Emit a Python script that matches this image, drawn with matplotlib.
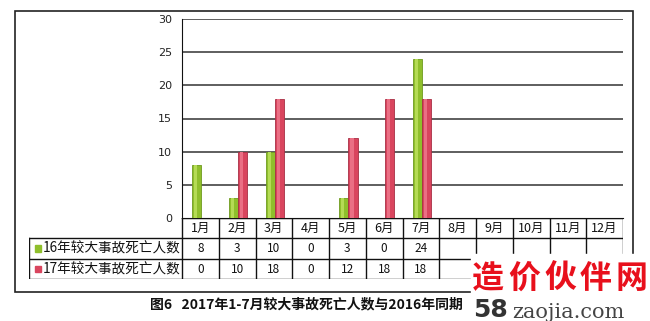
import matplotlib
matplotlib.use("Agg")
import matplotlib.pyplot as plt
from matplotlib.patches import Rectangle
import numpy as np

plt.rcParams['font.family'] = ['Noto Sans CJK SC', 'DejaVu Sans']

months = ['1月', '2月', '3月', '4月', '5月', '6月', '7月', '8月', '9月', '10月', '11月', '12月']
series_names = ['16年较大事故死亡人数', '17年较大事故死亡人数']
deaths_2016 = [8, 3, 10, 0, 3, 0, 24]
deaths_2017 = [0, 10, 18, 0, 12, 18, 18]
yticks = [0, 5, 10, 15, 20, 25, 30]
caption = '图6   2017年1-7月较大事故死亡人数与2016年同期'
watermark_cn = '造价伙伴网'

W, H = 650, 321
fig = plt.figure(figsize=(W / 100, H / 100), dpi=100)
fig.patch.set_facecolor('white')

def frac(x0, y0, x1, y1):
    return [x0 / W, 1 - y1 / H, (x1 - x0) / W, (y1 - y0) / H]

# pixel geometry
PL, PR, PT, PB = 182, 623, 19, 218
TL, TB = 29, 279

# background overlay axes (pixel coords)
bg = fig.add_axes([0, 0, 1, 1], zorder=0)
bg.set_xlim(0, W); bg.set_ylim(H, 0); bg.axis('off')
bg.add_patch(Rectangle((15, 11), 618, 281, fill=False, ec='#222222', lw=1.2))

# bar axes
ax = fig.add_axes(frac(PL, PT, PR, PB), zorder=2)
ax.set_facecolor('none')
ax.set_xlim(-0.5, 11.5)
ax.set_ylim(0, 30)
ax.set_yticks(yticks)
ax.set_yticklabels([str(v) for v in yticks], fontsize=8, color='#222222',
                   family=['DejaVu Sans'])
ax.tick_params(axis='y', length=0, pad=7)
ax.set_xticks([])
for s in ['top', 'right']:
    ax.spines[s].set_visible(False)
ax.spines['left'].set_color('#111111')
ax.spines['bottom'].set_color('#111111')
for v in yticks[1:]:
    ax.axhline(v, color='#333333', lw=1.1, zorder=1)

bw = 0.25
x16 = np.arange(len(deaths_2016)) - bw / 2 + 0.03
x17 = np.arange(len(deaths_2017)) + bw / 2 + 0.03
ax.bar(x16, deaths_2016, width=bw, color='#8FBF2C', edgecolor='#6E9A1E', lw=0.6, zorder=3)
ax.bar(x16 - bw * 0.12, deaths_2016, width=bw * 0.35, color='#B5DB55', lw=0, zorder=4)
ax.bar(x17, deaths_2017, width=bw, color='#D9455E', edgecolor='#A82F44', lw=0.6, zorder=3)
ax.bar(x17 - bw * 0.12, deaths_2017, width=bw * 0.35, color='#EA6F84', lw=0, zorder=4)

# table axes
cat_px = (PR - PL) / 12.0
xl = -0.5 - (PL - TL) / cat_px
tb = fig.add_axes(frac(TL, PB, PR, TB), zorder=2)
tb.set_xlim(xl, 11.5); tb.set_ylim(3, 0); tb.axis('off')
lc = '#111111'
tb.plot([-0.5, 11.5], [0, 0], color=lc, lw=1)
for yy in [1, 2, 3]:
    tb.plot([xl, 11.5], [yy, yy], color=lc, lw=1)
tb.plot([xl, xl], [1, 3], color=lc, lw=1)
for k in range(13):
    tb.plot([k - 0.5, k - 0.5], [0, 3], color=lc, lw=1)
for i, m in enumerate(months):
    tb.text(i, 0.52, m, ha='center', va='center', fontsize=9, color='#111111')
for i, v in enumerate(deaths_2016):
    tb.text(i, 1.52, str(v), ha='center', va='center', fontsize=8.5, color='#111111')
for i, v in enumerate(deaths_2017):
    tb.text(i, 2.52, str(v), ha='center', va='center', fontsize=8.5, color='#111111')
colors = ['#8FBF2C', '#D9455E']
for r, (name, c) in enumerate(zip(series_names, colors)):
    tb.add_patch(Rectangle((xl + 0.16, 1.35 + r), 0.17, 0.33, color=c))
    tb.text(xl + 0.38, 1.52 + r, name, ha='left', va='center', fontsize=9.8, color='#111111')

# caption
bg.text(150, 304, caption, ha='left', va='center', fontsize=10, fontweight='bold',
        color='#111111', zorder=3)

# watermark
wm = fig.add_axes([0, 0, 1, 1], zorder=5)
wm.set_xlim(0, W); wm.set_ylim(H, 0); wm.axis('off')
wm.add_patch(Rectangle((471, 254), 179, 67, color='white'))
for k, ch in enumerate(watermark_cn):
    wm.text(488 + k * 36, 279, ch, ha='center', va='center', fontsize=23, color='#E8101C',
            fontweight='bold')
wm.text(473, 310, '58', ha='left', va='center', fontsize=18, color='#333333', fontweight='bold',
        family=['DejaVu Sans'])
wm.text(512, 312, 'zaojia.com', ha='left', va='center', fontsize=15, color='#444444',
        family=['DejaVu Serif'])

fig.savefig('out.png', dpi=100)
